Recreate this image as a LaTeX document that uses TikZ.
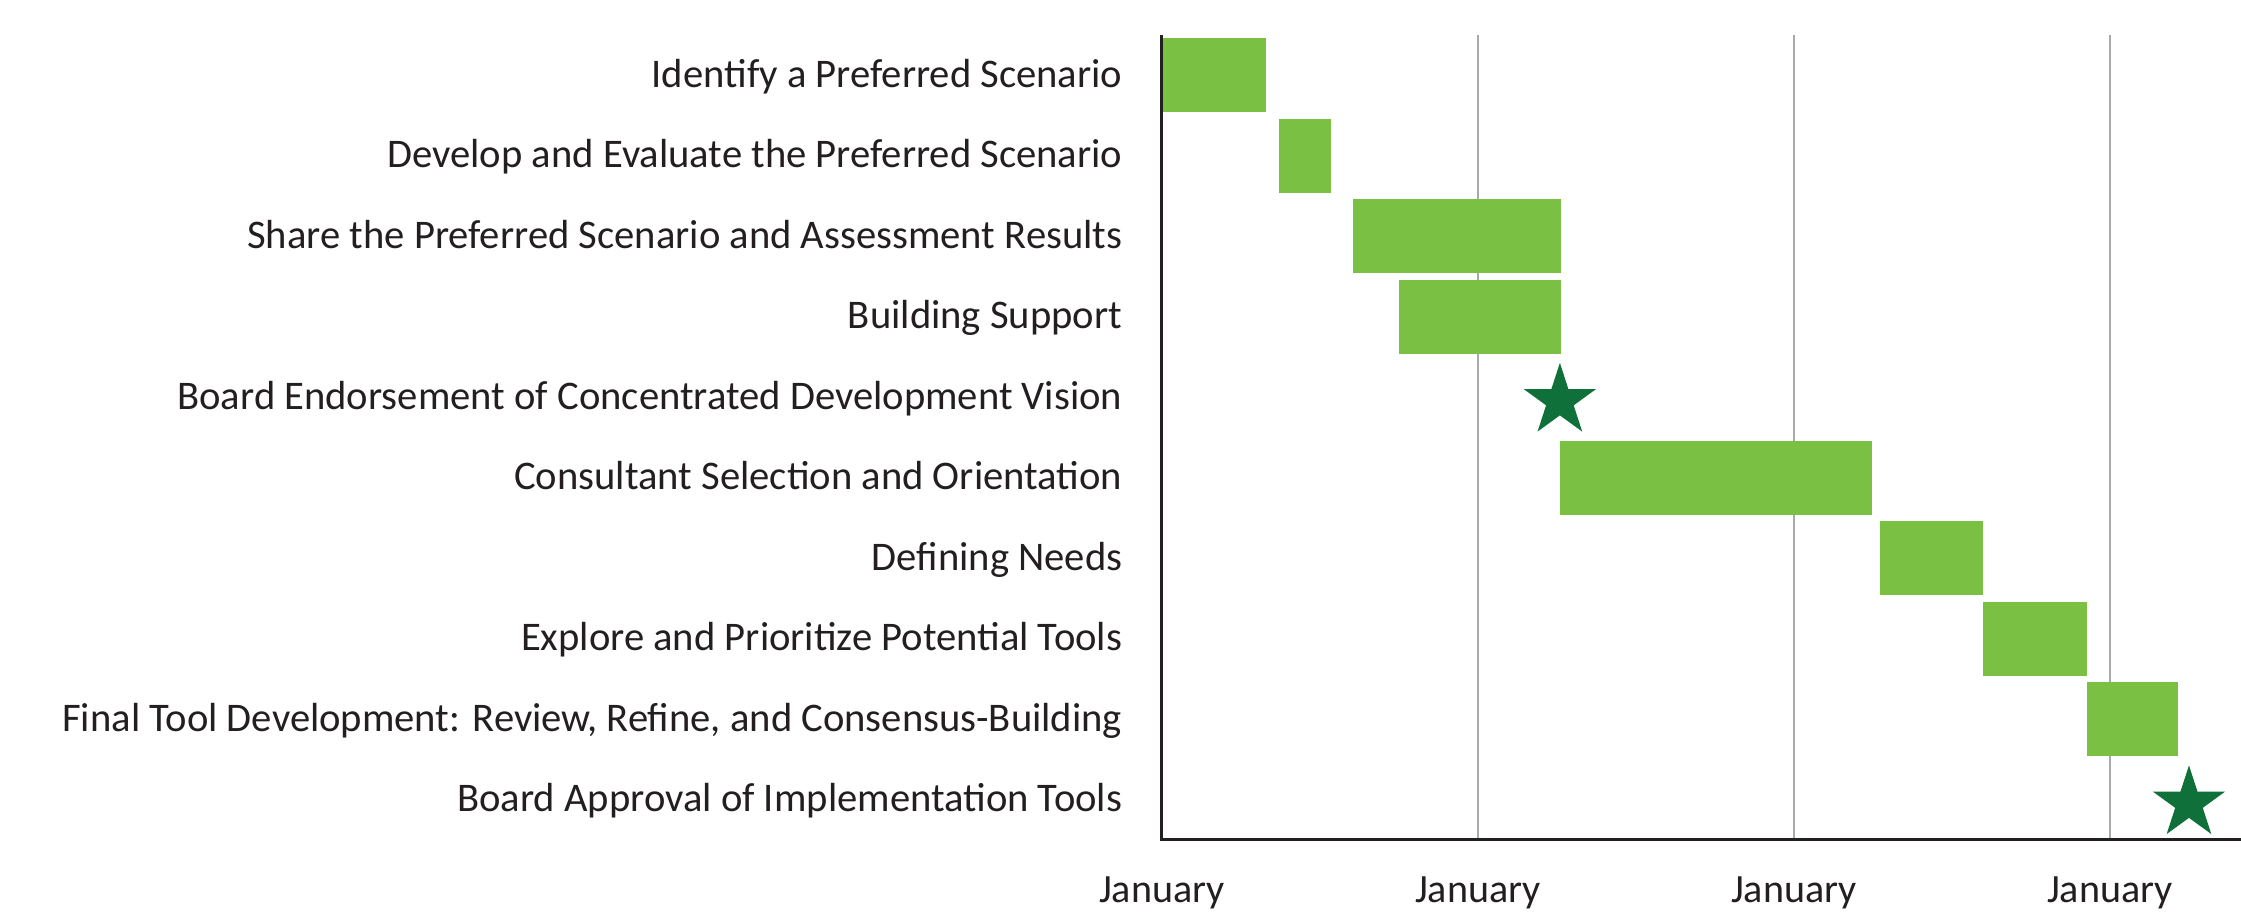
\documentclass[tikz,border=0pt]{standalone}
\usepackage{fontspec}
\setmainfont{Carlito}
\usetikzlibrary{shapes.geometric}

\definecolor{barGreen}{RGB}{122,193,67}
\definecolor{starGreen}{RGB}{15,113,57}
\definecolor{axisGray}{RGB}{35,31,32}
\definecolor{gridGray}{RGB}{167,169,172}

\tikzset{
  task/.style={anchor=base east, inner sep=0pt, text=axisGray, font=\fontsize{11.56}{13}\selectfont},
  month/.style={anchor=base, inner sep=0pt, text=axisGray, font=\fontsize{11.4}{13}\selectfont},
  bar/.style={fill=barGreen},
  milestone/.style={star, star points=5, star point ratio=2.618, inner sep=0pt, minimum size=0.76cm, fill=starGreen},
}

\begin{document}
\begin{tikzpicture}[x=0.26333cm, y=0.805cm]
	\useasboundingbox (-44.127,-0.969) rectangle (40.975,10.435);
	% yearly grid lines
	\draw[gridGray, line width=0.6pt] (12,0) -- (12,10);
	\draw[gridGray, line width=0.6pt] (24,0) -- (24,10);
	\draw[gridGray, line width=0.6pt] (36,0) -- (36,10);
	% task bars (x in months)
	\fill[bar] (0,9.04) rectangle (3.95,9.96);
	\fill[bar] (4.44,8.04) rectangle (6.42,8.96);
	\fill[bar] (7.25,7.04) rectangle (15.15,7.96);
	\fill[bar] (9.0,6.04) rectangle (15.15,6.96);
	\fill[bar] (15.11,4.04) rectangle (26.96,4.96);
	\fill[bar] (27.25,3.04) rectangle (31.16,3.96);
	\fill[bar] (31.16,2.04) rectangle (35.11,2.96);
	\fill[bar] (35.11,1.04) rectangle (38.57,1.96);
	% milestones
	\node[milestone] (m1) at (15.11,5.455) {};
	\node[milestone] (m2) at (39.0,0.455) {};
	% axes
	\draw[axisGray, line width=0.85pt] (0,10) -- (0,0) -- (40.975,0);
	% task labels
	\node[task] (t1) at (-1.48,9.35) {Identify a Preferred Scenario};
	\node[task] (t2) at (-1.48,8.35) {Develop and Evaluate the Preferred Scenario};
	\node[task] (t3) at (-1.48,7.35) {Share the Preferred Scenario and Assessment Results};
	\node[task] (t4) at (-1.48,6.35) {Building Support};
	\node[task] (t5) at (-1.48,5.35) {Board Endorsement of Concentrated Development Vision};
	\node[task] (t6) at (-1.48,4.35) {Consultant Selection and Orientation};
	\node[task] (t7) at (-1.48,3.35) {Defining Needs};
	\node[task] (t8) at (-1.48,2.35) {Explore and Prioritize Potential Tools};
	\node[task] (t9) at (-1.48,1.35) {Final Tool Development: Review, Refine, and Consensus-Building};
	\node[task] (t10) at (-1.48,0.35) {Board Approval of Implementation Tools};
	% time axis labels
	\node[month] (jan1) at (0,-0.78) {January};
	\node[month] (jan2) at (12,-0.78) {January};
	\node[month] (jan3) at (24,-0.78) {January};
	\node[month] (jan4) at (36,-0.78) {January};
\end{tikzpicture}
\end{document}
